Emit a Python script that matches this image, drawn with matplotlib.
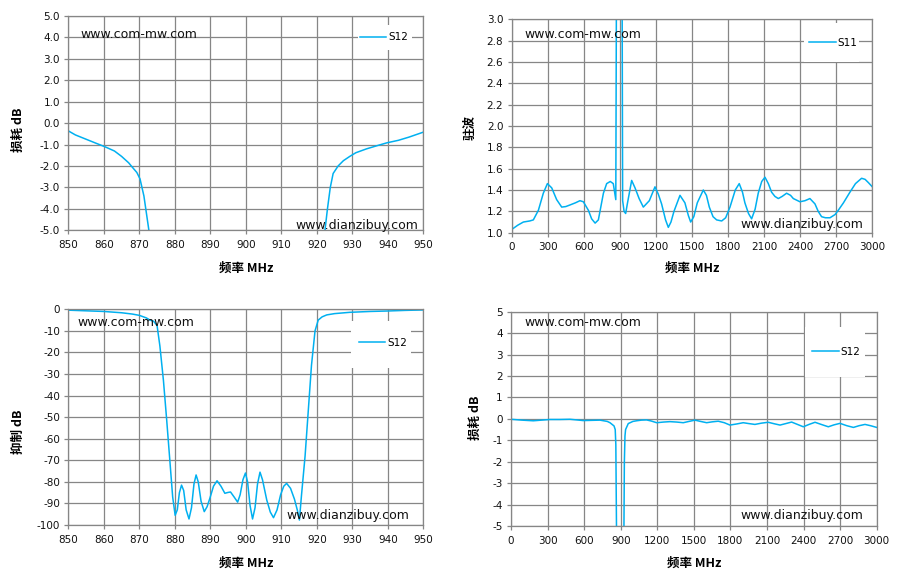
import matplotlib; matplotlib.use("Agg")
import matplotlib.pyplot as plt
from matplotlib.patches import Rectangle

plt.rcParams["axes.unicode_minus"] = False

# --- data ---
# top-left: S12 passband loss, 850-950 MHz
f_loss = [850, 852, 855, 858, 860.3, 863, 865, 867, 868, 869.3, 870.2, 871.3, 872, 872.7, 873.2, 880,
          915, 921.8, 922.3, 923, 923.8, 924.6, 926, 927.5, 929.3, 931, 934, 937, 939.7, 943, 946, 950]
loss_db = [-0.36, -0.55, -0.75, -0.95, -1.1, -1.3, -1.55, -1.85, -2.05, -2.3, -2.6, -3.4, -4.2, -5.0, -5.8, -95,
           -95, -5.8, -5.0, -4.0, -3.0, -2.35, -2.0, -1.75, -1.55, -1.38, -1.2, -1.05, -0.92, -0.8, -0.65, -0.42]

# top-right: S11 VSWR, 0-3000 MHz
f_vswr = [0, 50, 97, 150, 180, 222, 263, 297, 333, 374, 416, 450, 485, 530, 568, 596, 638, 665, 694, 721,
          763, 790, 820, 845, 866, 872, 918, 923, 935, 948, 962, 998, 1026, 1060, 1095, 1145, 1192, 1220,
          1247, 1280, 1303, 1325, 1350, 1400, 1441, 1470, 1489, 1515, 1544, 1594, 1620, 1644, 1675, 1705,
          1747, 1780, 1816, 1860, 1893, 1920, 1940, 1970, 1996, 2025, 2051, 2080, 2107, 2135, 2162, 2190,
          2218, 2250, 2287, 2320, 2343, 2398, 2440, 2481, 2523, 2550, 2578, 2610, 2648, 2690, 2717, 2760,
          2814, 2860, 2911, 2940, 2967, 3000]
vswr = [1.03, 1.07, 1.10, 1.11, 1.12, 1.21, 1.37, 1.46, 1.42, 1.31, 1.24, 1.245, 1.26, 1.28, 1.30, 1.29,
        1.21, 1.13, 1.09, 1.12, 1.37, 1.46, 1.48, 1.46, 1.31, 3.5, 3.5, 1.30, 1.20, 1.18, 1.27, 1.49, 1.42,
        1.32, 1.24, 1.30, 1.43, 1.36, 1.27, 1.12, 1.05, 1.10, 1.20, 1.35, 1.28, 1.16, 1.10, 1.15, 1.28,
        1.40, 1.35, 1.24, 1.15, 1.12, 1.11, 1.14, 1.24, 1.40, 1.46, 1.38, 1.28, 1.18, 1.13, 1.22, 1.37,
        1.48, 1.52, 1.46, 1.38, 1.34, 1.32, 1.34, 1.37, 1.35, 1.32, 1.29, 1.30, 1.32, 1.27, 1.20, 1.15,
        1.14, 1.14, 1.17, 1.21, 1.28, 1.38, 1.46, 1.51, 1.50, 1.47, 1.43]

# bottom-left: S12 rejection, 850-950 MHz
f_rej = [850, 855, 860, 865, 868, 870, 872, 873, 874, 875, 875.8, 876.8, 877.7, 878.6, 879.4, 880.1,
         880.7, 881.3, 881.9, 882.5, 883.2, 884.0, 884.7, 885.4, 886.0, 886.6, 887.4, 888.3, 889.1, 889.9,
         890.9, 891.9, 893.0, 894.1, 895.0, 895.7, 896.7, 897.7, 898.4, 899.2, 899.9, 900.5, 901.2, 901.9,
         902.6, 903.3, 904.0, 904.7, 905.9, 906.9, 907.8, 908.8, 909.8, 910.7, 911.5, 912.6, 913.7, 914.5,
         915.1, 915.7, 916.2, 916.7, 917.6, 918.5, 919.5, 920.4, 921.5, 922.8, 925, 929.3, 935, 939.7,
         945, 950]
rej_db = [-0.4, -0.7, -1.0, -1.6, -2.2, -2.8, -4.0, -5.0, -5.5, -7.5, -17, -33, -51, -70, -87, -95.5,
          -93, -85, -81.5, -84, -93, -97.2, -92, -81, -76.8, -80, -89, -93.8, -91.5, -87.5,
          -82, -79.5, -82, -85.3, -84.9, -84.7, -87, -89.4, -86, -79, -75.9, -80, -91, -97.2,
          -92, -81, -75.5, -79, -88.4, -94, -96.6, -93, -86, -82, -80.7, -83, -88, -93,
          -97.7, -86, -77, -68, -47, -26, -10, -5, -3.5, -2.6, -2.0, -1.4, -1.0, -0.8,
          -0.5, -0.3]

# bottom-right: S12 wideband loss, 0-3000 MHz
f_wide = [0, 90, 183, 250, 320, 400, 484, 540, 593, 660, 730, 790, 812, 845, 855, 860, 866, 926, 930,
          935, 940, 962, 1000, 1030, 1070, 1112, 1150, 1195, 1250, 1304, 1360, 1413, 1460, 1509, 1555,
          1605, 1650, 1700, 1750, 1796, 1850, 1905, 1950, 2001, 2055, 2110, 2160, 2207, 2255, 2302, 2350,
          2398, 2445, 2494, 2550, 2603, 2650, 2699, 2755, 2809, 2855, 2904, 2950, 3000]
wide_db = [-0.02, -0.06, -0.09, -0.06, -0.03, -0.03, -0.02, -0.05, -0.08, -0.07, -0.06, -0.12, -0.18,
           -0.33, -0.5, -1.2, -5.5, -5.5, -2.0, -0.8, -0.5, -0.22, -0.12, -0.09, -0.06, -0.05, -0.1,
           -0.18, -0.15, -0.13, -0.15, -0.18, -0.12, -0.06, -0.12, -0.18, -0.14, -0.11, -0.18, -0.29,
           -0.24, -0.18, -0.22, -0.26, -0.2, -0.16, -0.23, -0.29, -0.22, -0.15, -0.26, -0.37, -0.26,
           -0.16, -0.27, -0.37, -0.28, -0.21, -0.32, -0.40, -0.32, -0.26, -0.32, -0.40]

W, H = 904, 584
LINE = "#00b0f0"
GRID = "#868686"
CJK = ["Noto Sans CJK SC", "DejaVu Sans"]

fig = plt.figure(figsize=(W/100, H/100), dpi=100)

def fx(px): return px/W
def fy(py): return 1-py/H

def make_ax(l, t, r, b):
    ax = fig.add_axes([fx(l), fy(b), (r-l)/W, (b-t)/H])
    ax.grid(True, color=GRID, lw=0.9)
    ax.set_axisbelow(True)
    for s in ax.spines.values():
        s.set_color(GRID); s.set_linewidth(0.9)
    ax.tick_params(length=3, width=0.9, color=GRID, labelsize=7.5, labelcolor="#111111", pad=3)
    ax.tick_params(axis="x", pad=4)
    return ax

def legend_box(ax, label, box, center):
    x0, y0, x1, y1 = box
    ax.add_patch(Rectangle((fx(x0), fy(y1)), (x1-x0)/W, (y1-y0)/H, transform=fig.transFigure,
                           facecolor="white", edgecolor="none", zorder=4, clip_on=False))
    ax.legend([ax.lines[0]], [label], loc="center", bbox_to_anchor=(fx(center[0]), fy(center[1])),
              bbox_transform=fig.transFigure, frameon=False, fontsize=7.5, handlelength=2.5,
              handletextpad=0.2, borderpad=0, borderaxespad=0)

def marks(www1, www2):
    fig.text(fx(www1[0]), fy(www1[1]), "www.com-mw.com", fontsize=9, va="center", ha="left", color="#111111")
    fig.text(fx(www2[0]), fy(www2[1]), "www.dianzibuy.com", fontsize=9, va="center", ha="left", color="#111111")

# top-left
ax1 = make_ax(68.3, 16, 423.3, 230.3)
ax1.plot(f_loss, loss_db, color=LINE, lw=1.1)
ax1.set_xlim(850, 950); ax1.set_ylim(-5, 5)
ax1.set_xticks(range(850, 951, 10)); ax1.set_yticks(range(-5, 6))
ax1.set_yticklabels([f"{v:.1f}" for v in range(-5, 6)])
legend_box(ax1, "S12", (358, 25, 412, 50), (384, 37.5))
marks((80, 34), (295, 226))

# top-right
ax2 = make_ax(511.7, 19.3, 872.3, 232.7)
ax2.plot(f_vswr, vswr, color=LINE, lw=1.1)
ax2.set_xlim(0, 3000); ax2.set_ylim(1.0, 3.0)
ax2.set_xticks(range(0, 3001, 300))
yt2 = [1.0 + 0.2*i for i in range(11)]
ax2.set_yticks(yt2); ax2.set_yticklabels([f"{v:.1f}" for v in yt2])
legend_box(ax2, "S11", (804, 23, 859, 62), (833.5, 43))
marks((524, 34), (740, 225))

# bottom-left
ax3 = make_ax(68.3, 309.3, 423.3, 525)
ax3.plot(f_rej, rej_db, color=LINE, lw=1.1)
ax3.set_xlim(850, 950); ax3.set_ylim(-100, 0)
ax3.set_xticks(range(850, 951, 10)); ax3.set_yticks(range(-100, 1, 10))
legend_box(ax3, "S12", (351, 321, 411, 368), (383, 343))
marks((77, 323), (286, 516))

# bottom-right
ax4 = make_ax(511, 311.7, 876.7, 526)
ax4.plot(f_wide, wide_db, color=LINE, lw=1.1)
ax4.set_xlim(0, 3000); ax4.set_ylim(-5, 5)
ax4.set_xticks(range(0, 3001, 300)); ax4.set_yticks(range(-5, 6))
legend_box(ax4, "S12", (805, 327, 865, 377), (836.5, 352))
marks((524, 323), (740, 516))

# axis titles
lab = dict(fontsize=9, fontweight="bold", family=CJK, ha="center", va="center")
fig.text(fx(245.8), fy(268), "频率 MHz", **lab)
fig.text(fx(692), fy(268), "频率 MHz", **lab)
fig.text(fx(245.8), fy(563), "频率 MHz", **lab)
fig.text(fx(694), fy(563), "频率 MHz", **lab)
fig.text(fx(18), fy(130), "损耗 dB", rotation=90, **lab)
fig.text(fx(470), fy(127), "驻波", rotation=90, **lab)
fig.text(fx(18), fy(432), "抑制 dB", rotation=90, **lab)
fig.text(fx(475), fy(418), "损耗 dB", rotation=90, **lab)

fig.savefig("out.png", dpi=100, facecolor="white")
